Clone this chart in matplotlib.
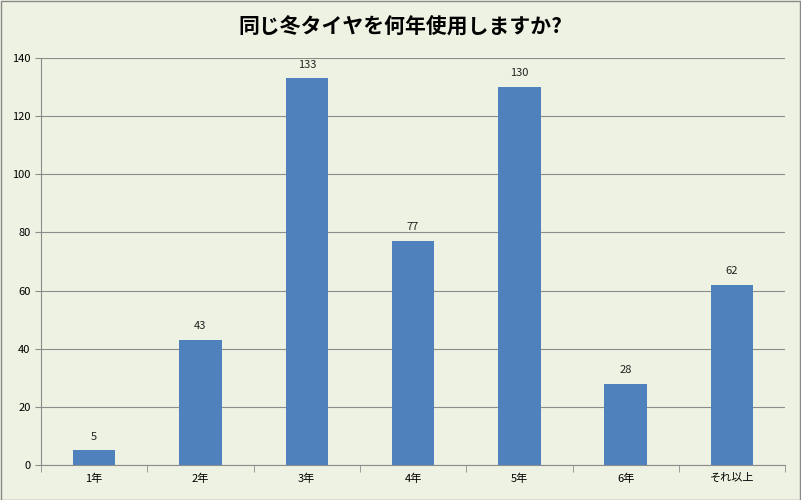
import matplotlib
matplotlib.use("Agg")
import matplotlib.pyplot as plt
from matplotlib.patches import Rectangle

categories = ["1年", "2年", "3年", "4年", "5年", "6年", "それ以上"]
values = [5, 43, 133, 77, 130, 28, 62]
title = "同じ冬タイヤを何年使用しますか?"

plt.rcParams['font.family'] = ['Noto Sans CJK JP', 'DejaVu Sans']
bg = "#EEF2E2"
fig = plt.figure(figsize=(8.01, 5.0), dpi=100, facecolor=bg)
fig.patches.append(Rectangle((0.001, 0.001), 0.998, 0.997, transform=fig.transFigure,
                             fill=False, edgecolor="#888888", linewidth=1))
ax = fig.add_axes([0.0512, 0.07, 0.929, 0.814], facecolor=bg)
x = range(len(categories))
ax.bar(x, values, width=0.4, color="#4F81BD", zorder=3)
for i, v in zip(x, values):
    ax.text(i, v + 3, str(v), ha="center", va="bottom", fontsize=8, color="#222222")
ax.set_xlim(-0.5, len(categories) - 0.5)
ax.set_ylim(0, 140)
ax.set_yticks(range(0, 141, 20))
ax.yaxis.grid(True, color="#8C8C8C", linewidth=0.8, zorder=0)
ax.set_xticks(list(x))
ax.set_xticklabels(categories, fontsize=8)
ax.set_xticks([i + 0.5 for i in range(-1, len(categories))], minor=True)
ax.tick_params(axis="x", which="major", length=0, pad=6)
ax.tick_params(axis="x", which="minor", length=5, color="#8C8C8C")
ax.tick_params(axis="y", labelsize=8, length=4, color="#8C8C8C")
for s in ["top", "right"]:
    ax.spines[s].set_visible(False)
for s in ["left", "bottom"]:
    ax.spines[s].set_color("#8C8C8C")
fig.text(0.5, 0.945, title, ha="center", va="center", fontsize=15, fontweight="bold")
fig.savefig("out.png", facecolor=bg)
